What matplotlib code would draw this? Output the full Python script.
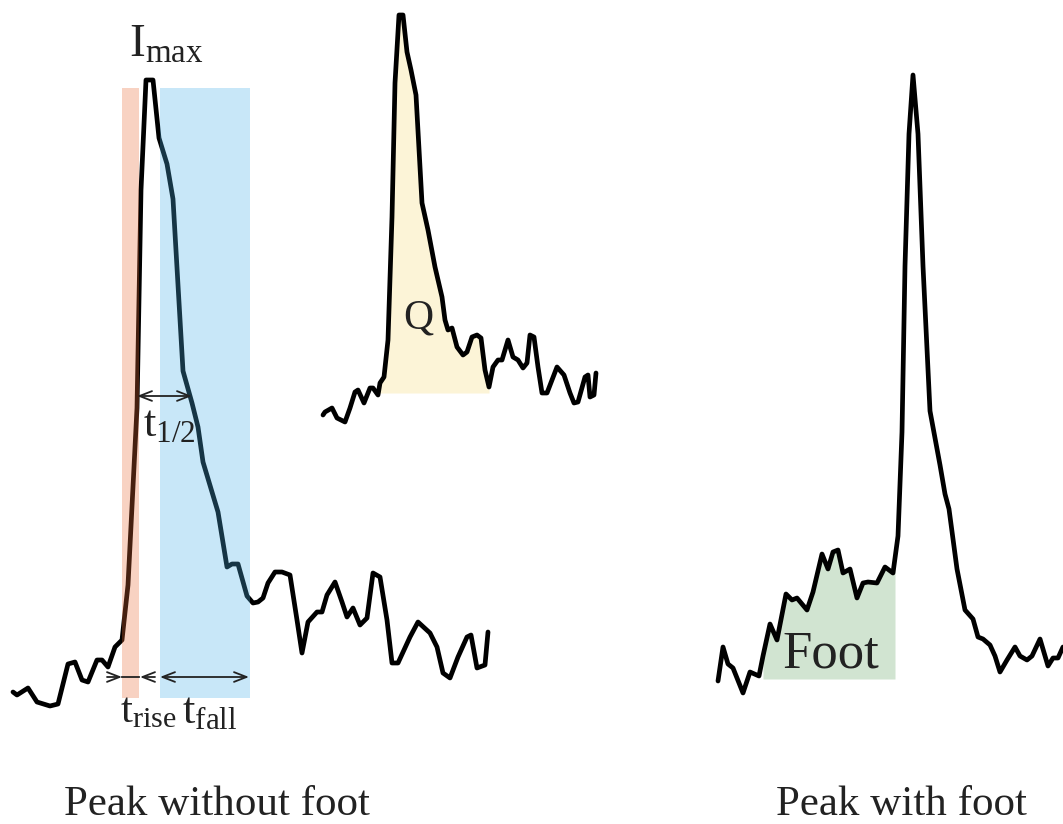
import matplotlib
matplotlib.use("Agg")
import matplotlib.pyplot as plt
import numpy as np

plt.rcParams['font.family'] = ['Liberation Serif', 'DejaVu Serif']
plt.rcParams['mathtext.fontset'] = 'custom'
plt.rcParams['mathtext.rm'] = 'Liberation Serif'
plt.rcParams['mathtext.it'] = 'Liberation Serif:italic'

# traces (x = time, y = signal, pixel units, y grows downwards)
left_x = [13, 17, 28, 37, 50, 58, 68, 75, 82, 88, 97, 102, 108, 115, 122, 128, 137, 141, 146,
          153, 159, 167, 173, 183, 192, 198, 203, 218, 227, 232, 238, 247, 253, 258, 263, 268,
          275, 282, 290, 297, 302, 308, 317, 322, 327, 335, 342, 347, 353, 360, 367, 373, 380,
          387, 392, 398, 410, 418, 430, 437, 443, 450, 458, 467, 471, 477, 485, 488]
left_y = [692, 695, 688, 702, 706, 704, 664, 662, 680, 682, 660, 660, 667, 647, 640, 585, 408, 190, 80,
          80, 138, 164, 199, 371, 403, 427, 462, 512, 567, 564, 564, 596, 603, 602, 598, 583,
          572, 572, 575, 620, 653, 622, 612, 612, 595, 582, 602, 617, 608, 625, 618, 573, 577,
          620, 663, 663, 637, 622, 633, 647, 673, 678, 657, 637, 635, 668, 665, 632]

q_x = [323, 325, 332, 337, 345, 350, 355, 358, 364, 370, 373, 378, 380, 384, 388, 392, 395, 399,
       403, 407, 411, 416, 422, 428, 435, 442, 445, 448, 452, 457, 463, 467, 472, 477, 481, 485,
       489, 493, 498, 502, 508, 513, 518, 523, 527, 530, 534, 538, 542, 547, 557, 564, 570, 574,
       578, 585, 588, 590, 594, 596]
q_y = [415, 412, 408, 418, 422, 408, 392, 390, 403, 388, 388, 395, 383, 377, 340, 217, 83, 15,
       15, 52, 70, 95, 203, 230, 267, 297, 320, 330, 328, 347, 355, 352, 337, 335, 338, 370,
       387, 367, 360, 360, 340, 357, 360, 368, 363, 335, 337, 367, 393, 393, 367, 375, 393, 403,
       402, 377, 375, 397, 395, 373]

foot_x = [718, 723, 728, 733, 743, 750, 759, 763, 770, 777, 786, 792, 797, 807, 813, 822, 828, 833,
          838, 843, 850, 857, 863, 868, 877, 885, 893, 898, 902, 905, 909, 913, 918, 923, 930,
          940, 945, 949, 957, 965, 973, 978, 983, 990, 995, 1000, 1007, 1015, 1020, 1027, 1032,
          1040, 1048, 1053, 1058, 1063]
foot_y = [681, 647, 664, 668, 693, 672, 676, 656, 624, 640, 594, 600, 598, 610, 592, 554, 569, 552,
          550, 573, 569, 598, 583, 582, 583, 567, 573, 536, 432, 266, 134, 75, 134, 266, 411,
          465, 494, 509, 569, 610, 619, 637, 639, 645, 656, 672, 660, 647, 656, 660, 656,
          639, 666, 658, 658, 647]

# shaded regions
rise_span = (122, 139)
fall_span = (160, 250)
band_top, band_bottom = 88, 698
q_span = (378, 489)
q_base = 393
foot_span = (763, 895)
foot_base = 679

fig = plt.figure(figsize=(10.63, 8.24), dpi=100)
ax = fig.add_axes([0, 0, 1, 1])
ax.set_xlim(0, 1063)
ax.set_ylim(824, 0)
ax.axis('off')

line_kw = dict(color='black', lw=3.4, solid_joinstyle='round', solid_capstyle='round', zorder=2)

# Q area under the peak
qx = np.array(q_x)
qy = np.array(q_y)
m = (qx >= q_span[0]) & (qx <= q_span[1])
ax.fill_between(qx[m], qy[m], q_base, color='#fcf4d7', lw=0, zorder=1)

# foot area
fx = np.array(foot_x)
fy = np.array(foot_y)
m = (fx >= foot_span[0]) & (fx <= foot_span[1])
fxx = np.r_[foot_span[0], fx[m], foot_span[1]]
fyy = np.r_[np.interp(foot_span[0], fx, fy), fy[m], np.interp(foot_span[1], fx, fy)]
ax.fill_between(fxx, fyy, foot_base, color='#d1e4d1', lw=0, zorder=1)

ax.plot(left_x, left_y, **line_kw)
ax.plot(q_x, q_y, **line_kw)
ax.plot(foot_x, foot_y, **line_kw)

# rise / fall bands sit on top of the trace
ax.axvspan(*rise_span, ymin=1 - band_bottom / 824, ymax=1 - band_top / 824,
           color=(235 / 255, 108 / 255, 55 / 255), alpha=0.3, lw=0, zorder=3)
ax.axvspan(*fall_span, ymin=1 - band_bottom / 824, ymax=1 - band_top / 824,
           color=(75 / 255, 178 / 255, 232 / 255), alpha=0.3, lw=0, zorder=3)

arr = dict(arrowstyle='->,head_length=0.9,head_width=0.35', color='#222222', lw=1.3,
           shrinkA=0, shrinkB=0)
arr2 = dict(arr, arrowstyle='<->,head_length=0.9,head_width=0.35')
ay = 677
ax.annotate('', xy=(rise_span[0], ay), xytext=(107, ay), arrowprops=arr, zorder=4)
ax.annotate('', xy=(rise_span[1] + 1, ay), xytext=(155, ay), arrowprops=arr, zorder=4)
ax.plot([rise_span[0], rise_span[1]], [ay, ay], color='#222222', lw=1.3, zorder=4)
ax.annotate('', xy=(fall_span[0], ay), xytext=(fall_span[1] - 1, ay), arrowprops=arr2, zorder=4)
ax.annotate('', xy=(137, 396), xytext=(192, 396), arrowprops=arr2, zorder=4)

tc = '#222222'
ax.text(120, 712, r'$\mathrm{t}_{\mathrm{rise}}$', fontsize=31, color=tc, ha='left', va='center')
ax.text(182, 712, r'$\mathrm{t}_{\mathrm{fall}}$', fontsize=32, color=tc, ha='left', va='center')
ax.text(143, 425, r'$\mathrm{t}_{1/2}$', fontsize=32, color=tc, ha='left', va='center')
ax.text(129, 45, r'$\mathrm{I}_{\mathrm{max}}$', fontsize=34, color=tc, ha='left', va='center')
ax.text(418, 318, 'Q', fontsize=30, color=tc, ha='center', va='center')
ax.text(831, 655, 'Foot', fontsize=38, color=tc, ha='center', va='center')

ax.text(217, 815, 'Peak without foot', fontsize=31, color=tc, ha='center', va='baseline')
ax.text(901, 815, 'Peak with foot', fontsize=31, color=tc, ha='center', va='baseline')

fig.savefig('out.png', dpi=100)
